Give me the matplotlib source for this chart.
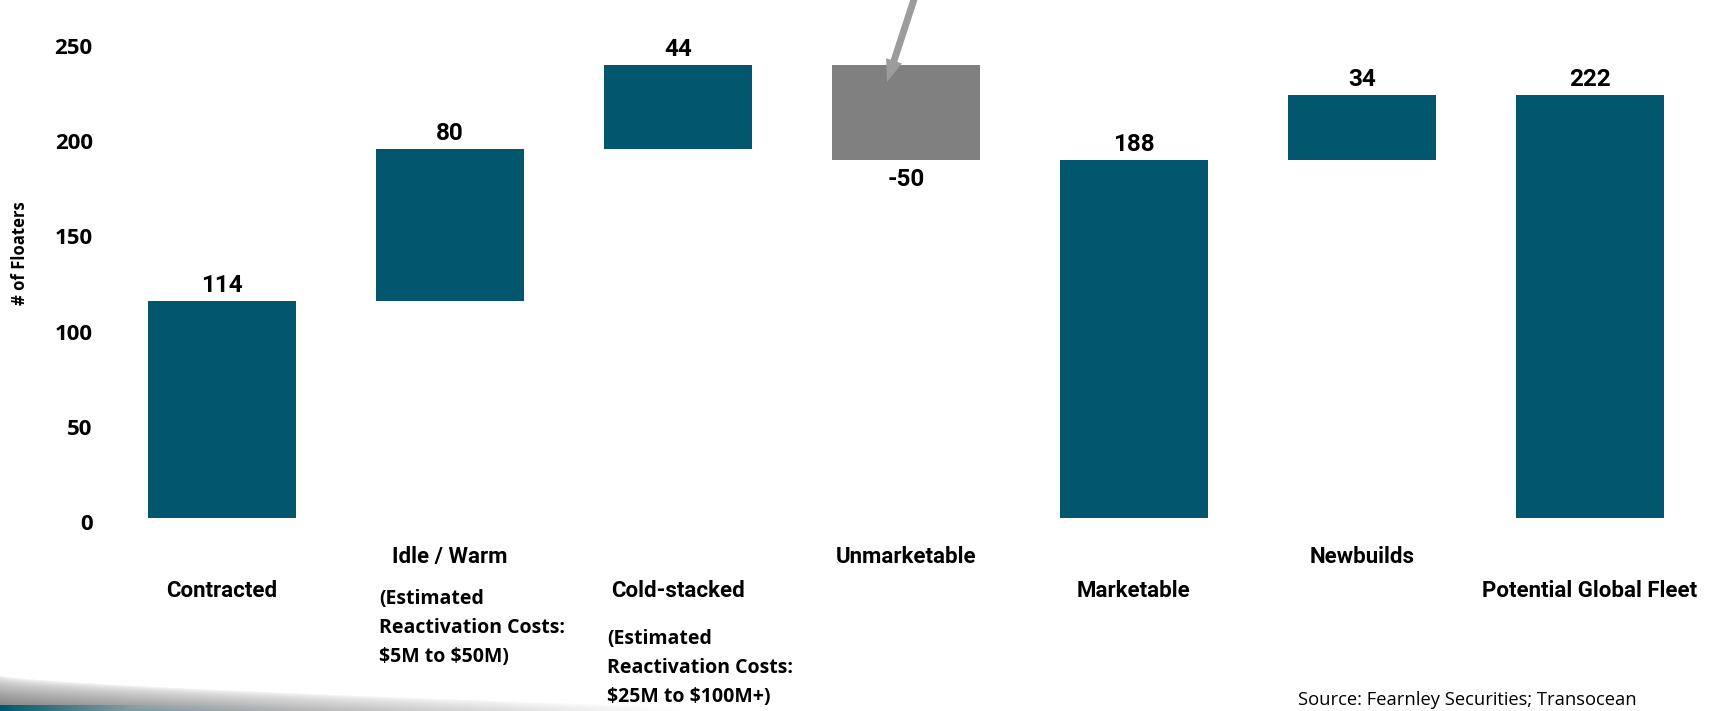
"""Waterfall of the global floater fleet: contracted through potential fleet."""

import matplotlib

matplotlib.use("Agg")
import matplotlib.pyplot as plt
import matplotlib.transforms as mtransforms
import numpy as np

CATEGORIES = [
    "Contracted",
    "Idle / Warm",
    "Cold-stacked",
    "Unmarketable",
    "Marketable",
    "Newbuilds",
    "Potential Global Fleet",
]
VALUES = [114, 80, 44, -50, 188, 34, 222]
IS_TOTAL = [True, False, False, False, True, False, True]
NOTES = {
    1: "(Estimated\nReactivation Costs:\n\\$5M to \\$50M)",
    2: "(Estimated\nReactivation Costs:\n\\$25M to \\$100M+)",
}
Y_TICKS = [0, 50, 100, 150, 200, 250]
SOURCE = "Source: Fearnley Securities; Transocean"

TEAL = "#02566E"
GRAY = "#808080"
ARROW_GRAY = "#9C9C9C"

W, H = 1714, 711


def fy(px):
    """figure fraction from a pixel row counted from the top"""
    return 1 - px / H


fig = plt.figure(figsize=(W / 100, H / 100), dpi=100)

# decorative grey swoosh in the bottom-left corner, drawn first and behind
sw_w, sw_h = 760, 40
xs = np.arange(sw_w)[None, :]
ys = np.arange(sw_h)[:, None]
top = 4 + 34 * (xs / sw_w) ** 0.7
depth = np.clip((ys - top) / (sw_h - top + 1e-9), 0, 1) ** 0.6
fade = np.clip(1 - xs / (sw_w * 0.9), 0, 1)
shade = depth * fade
rgba = np.zeros((sw_h, sw_w, 4))
rgba[..., :3] = 0.3
rgba[..., 3] = 0.75 * shade
teal_mask = (ys >= sw_h - 6) & (xs < 300)
teal_mix = np.clip(1 - xs / 300, 0, 1) * teal_mask
teal_rgb = np.array([2, 86, 110]) / 255
for c in range(3):
    rgba[..., c] = rgba[..., c] * (1 - teal_mix) + teal_rgb[c] * teal_mix
rgba[..., 3] = np.maximum(rgba[..., 3], teal_mix)
sw_ax = fig.add_axes([0, 0, sw_w / W, sw_h / H], zorder=-1)
sw_ax.imshow(rgba, aspect="auto", interpolation="bilinear")
sw_ax.set_axis_off()

ax = fig.add_axes([108 / W, fy(518), 1596 / W, (518 - 42) / H], zorder=2)
ax.patch.set_alpha(0)

# running totals for the floating bars
bottoms, heights, colors = [], [], []
running = 0
for value, total in zip(VALUES, IS_TOTAL):
    if total:
        bottoms.append(0)
        running = value
    else:
        bottoms.append(running)
        running += value
    heights.append(value)
    colors.append(GRAY if value < 0 else TEAL)

x = np.arange(len(CATEGORIES))
ax.bar(x, heights, bottom=bottoms, width=0.65, color=colors, zorder=2)

for i, (b, h) in enumerate(zip(bottoms, heights)):
    label = f"{h}"
    if h >= 0:
        ax.annotate(label, (i, b + h), xytext=(0, 4), textcoords="offset pixels",
                    ha="center", va="bottom", fontsize=17.5, fontweight="bold",
                    family="Roboto", annotation_clip=False)
    else:
        ax.annotate(label, (i, b + h), xytext=(0, -8), textcoords="offset pixels",
                    ha="center", va="top", fontsize=17.5, fontweight="bold",
                    family="Roboto", annotation_clip=False)

ax.set_xlim(-0.5, len(CATEGORIES) - 0.5)
ax.set_ylim(0, 250)
ax.set_yticks(Y_TICKS)
ax.set_xticks([])
ax.tick_params(axis="y", length=0, pad=11)
shift = mtransforms.ScaledTranslation(0, -4 / 100, fig.dpi_scale_trans)
for tick in ax.get_yticklabels():
    tick.set_fontfamily("Open Sans")
    tick.set_fontweight("bold")
    tick.set_fontsize(16)
    tick.set_transform(tick.get_transform() + shift)
for spine in ax.spines.values():
    spine.set_visible(False)

# category names in two staggered rows
trans = mtransforms.blended_transform_factory(ax.transData, fig.transFigure)
for i, name in enumerate(CATEGORIES):
    row_y = 557 if i % 2 else 591
    ax.text(i, fy(row_y), name, transform=trans, ha="center", va="center",
            fontsize=16, fontweight="bold", family="Roboto")

for i, note in NOTES.items():
    mid_y = 628 if i == 1 else 668
    ax.text(i - 0.31, fy(mid_y), note, transform=trans, ha="left", va="center",
            fontsize=14, fontweight="bold", family="Open Sans", linespacing=1.6)

# arrow pointing at the unmarketable bar
ax.annotate("", xy=(2.917, 229), xytext=(3.045, 276),
            arrowprops=dict(facecolor=ARROW_GRAY, edgecolor="none", width=5,
                            headwidth=12, headlength=16, shrink=0),
            annotation_clip=False)

fig.text(20 / W, fy(253), "# of Floaters", rotation=90, ha="center", va="center",
         fontsize=12, fontweight="bold", family="Open Sans")
fig.text(1298 / W, fy(700), SOURCE, ha="left", va="center",
         fontsize=13.2, family="Open Sans")

fig.savefig("out.png", dpi=100)
